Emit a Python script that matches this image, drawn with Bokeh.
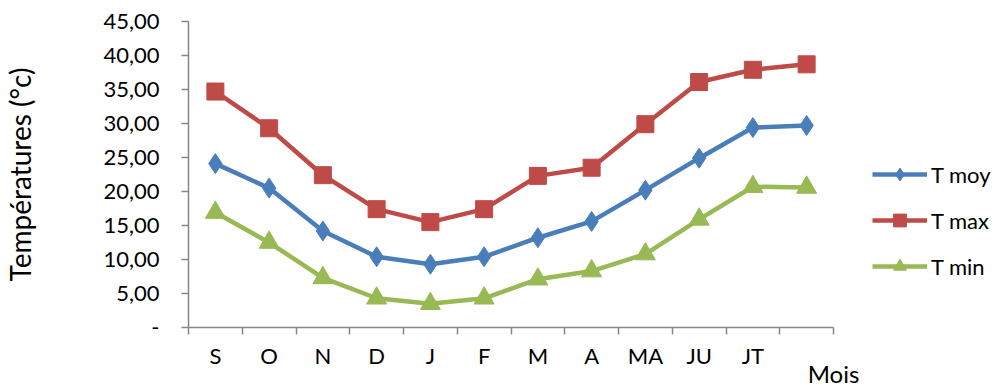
from bokeh.plotting import figure
from bokeh.models import FixedTicker, Legend, Range1d
from bokeh.layouts import row
from bokeh.embed import file_html
from bokeh.resources import INLINE

months = ["S", "O", "N", "D", "J", "F", "M", "A", "MA", "JU", "JT", ""]
t_moy = [24.1, 20.5, 14.2, 10.4, 9.3, 10.4, 13.2, 15.6, 20.2, 24.9, 29.4, 29.7]
t_max = [34.7, 29.3, 22.4, 17.4, 15.5, 17.4, 22.3, 23.5, 29.9, 36.1, 37.9, 38.7]
t_min = [16.9, 12.5, 7.3, 4.3, 3.5, 4.3, 7.1, 8.3, 10.8, 15.9, 20.7, 20.6]
y_ticks = [0, 5, 10, 15, 20, 25, 30, 35, 40, 45]
series_names = ["T moy", "T max", "T min"]

FONT = "Lato"
GRAY = "#868686"
x = [i + 0.5 for i in range(len(months))]

p = figure(width=860, height=390, output_backend="svg", toolbar_location=None,
           x_range=Range1d(0, len(months)), y_range=Range1d(0, 45),
           min_border_left=188, min_border_right=27, min_border_top=21,
           min_border_bottom=62)
p.outline_line_color = None
p.grid.visible = False

# legend panel as its own small figure
q = figure(width=140, height=390, output_backend="svg", toolbar_location=None,
           x_range=Range1d(0, 1), y_range=Range1d(0, 1),
           x_axis_type=None, y_axis_type=None,
           min_border_left=0, min_border_right=0, min_border_top=0, min_border_bottom=0)
q.outline_line_color = None
q.grid.visible = False

styles = [("#4A7EBB", "diamond", 20), ("#BE4B48", "square", 17), ("#98B954", "triangle", 20)]
items = []
for name, vals, (col, marker, size) in zip(series_names, [t_moy, t_max, t_min], styles):
    p.line(x, vals, line_color=col, line_width=4.5)
    p.scatter(x, vals, marker=marker, size=size, fill_color=col, line_color=col)
    # off-range stand-ins so the legend can draw its swatches
    d1 = q.line([-5, -4], [-5, -5], line_color=col, line_width=4.5)
    d2 = q.scatter([-5], [-5], marker=marker, size=size, fill_color=col, line_color=col)
    items.append((name, [d1, d2]))

legend = Legend(items=items, location=(12, 45), orientation="vertical")
legend.border_line_color = None
legend.background_fill_alpha = 0
legend.padding = 0
legend.margin = 0
legend.glyph_width = 55
legend.glyph_height = 32
legend.label_height = 26
legend.spacing = 14
legend.label_standoff = 4
legend.label_text_font = FONT
legend.label_text_font_size = "22px"
legend.label_text_color = "black"
q.add_layout(legend)

ax = p.xaxis[0]
ax.ticker = FixedTicker(ticks=x, minor_ticks=list(range(len(months) + 1)))
ax.major_label_overrides = {xi: m for xi, m in zip(x, months)}
ax.major_tick_out = 0
ax.major_tick_in = 0
ax.minor_tick_out = 7
ax.minor_tick_in = 0
ax.minor_tick_line_color = GRAY
ax.axis_line_color = GRAY
ax.axis_line_width = 1.5
ax.minor_tick_line_width = 1.5
ax.major_label_standoff = 7
ax.major_label_text_font = FONT
ax.major_label_text_font_size = "22px"
ax.major_label_text_color = "black"
ax.axis_label = "Mois"
ax.axis_label_align = "end"
ax.axis_label_standoff = -13
ax.axis_label_text_font = FONT
ax.axis_label_text_font_size = "24px"
ax.axis_label_text_font_style = "normal"
ax.axis_label_text_color = "black"

ay = p.yaxis[0]
ay.ticker = FixedTicker(ticks=y_ticks, minor_ticks=[])
ay.major_label_overrides = {t: ("-" if t == 0 else f"{t:.2f}".replace(".", ",")) for t in y_ticks}
ay.major_tick_out = 7
ay.major_tick_in = 0
ay.major_tick_line_color = GRAY
ay.major_tick_line_width = 1.5
ay.axis_line_color = GRAY
ay.axis_line_width = 1.5
ay.major_label_standoff = 22
ay.major_label_text_font = FONT
ay.major_label_text_font_size = "22px"
ay.major_label_text_color = "black"
ay.axis_label = "Températures (°c)"
ay.axis_label_text_font = FONT
ay.axis_label_text_font_size = "28px"
ay.axis_label_text_font_style = "normal"
ay.axis_label_text_color = "black"
ay.axis_label_standoff = 63

open("out.html", "w").write(file_html(row(p, q), INLINE))
